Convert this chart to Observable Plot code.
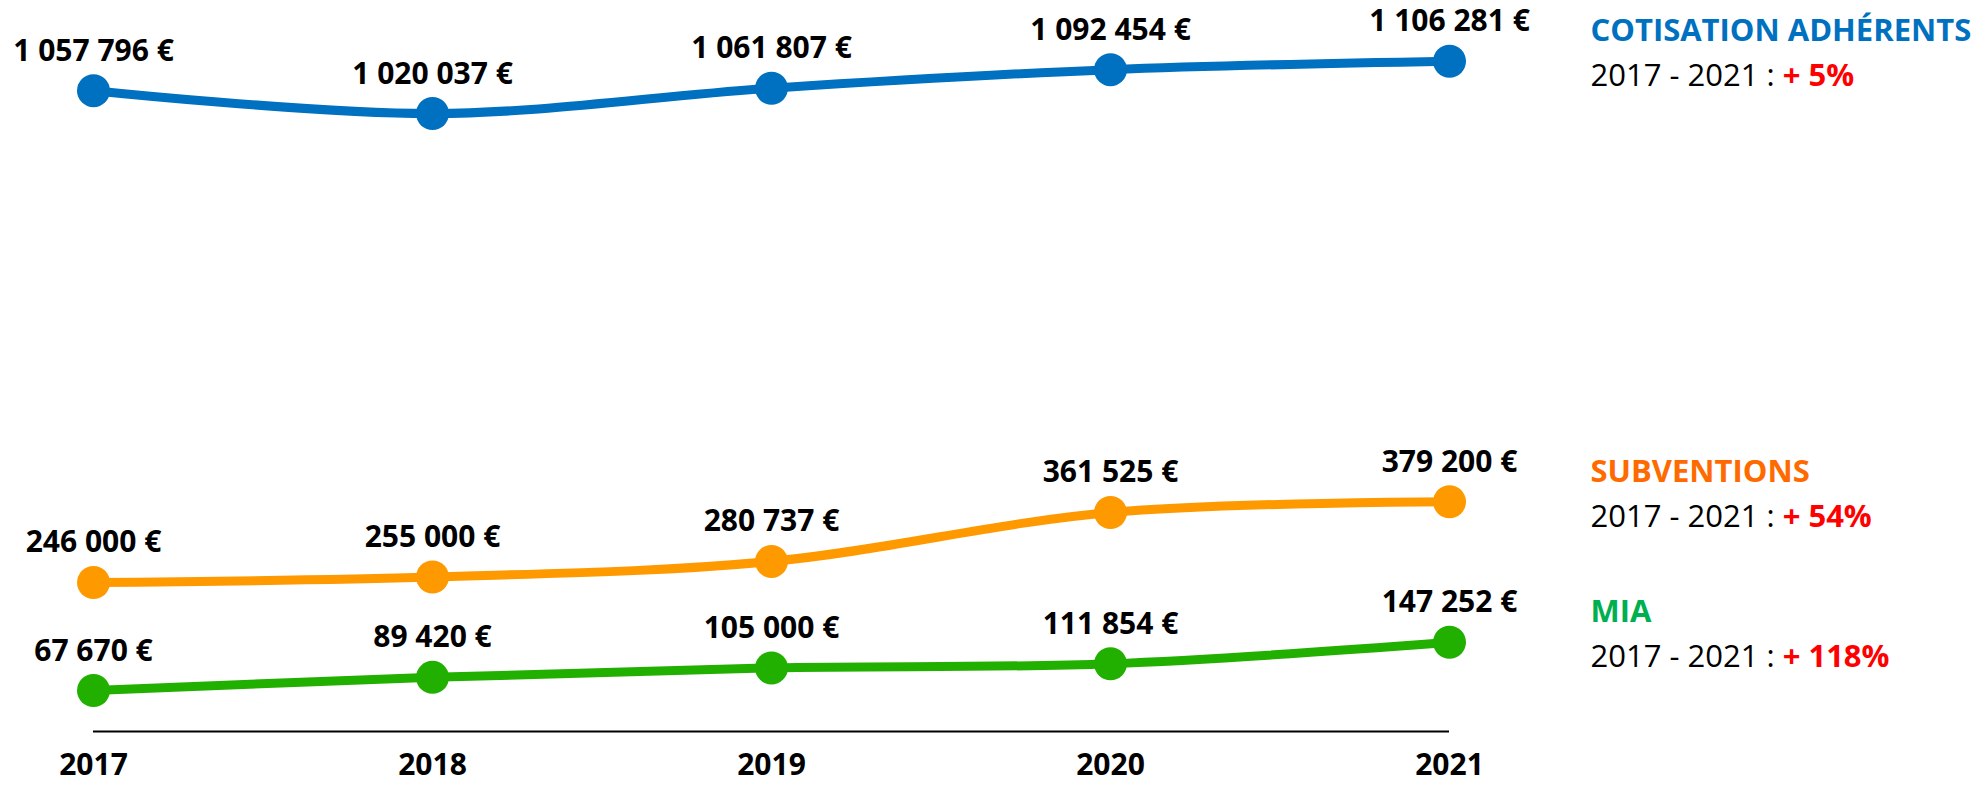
<!DOCTYPE html>
<html>
<head>
<meta charset="utf-8">
<script src="https://cdn.jsdelivr.net/npm/d3@7"></script>
<script src="https://cdn.jsdelivr.net/npm/@observablehq/plot@0.6"></script>
<style>
  html, body { margin: 0; padding: 0; background: #fff; }
  #chart { width: 1987px; height: 786px; }
</style>
</head>
<body>
<div id="chart"></div>
<script>
// ---- Data ----
const years = [2017, 2018, 2019, 2020, 2021];
const seriesNames = ["COTISATION ADHÉRENTS", "SUBVENTIONS", "MIA"];
const cotisation = [1057796, 1020037, 1061807, 1092454, 1106281];
const subventions = [246000, 255000, 280737, 361525, 379200];
const mia = [67670, 89420, 105000, 111854, 147252];
const lineColors = ["#0070C0", "#FF9900", "#22B000"];
const titleColors = ["#0070C0", "#FF6A00", "#00B050"];

const seriesValues = [cotisation, subventions, mia];

// long table for Plot
const rows = [];
seriesNames.forEach((name, i) => {
  years.forEach((yr, j) => rows.push({series: name, year: yr, value: seriesValues[i][j]}));
});
const lastRows = seriesNames.map((name, i) => {
  const vals = seriesValues[i];
  const pct = Math.round((vals[vals.length - 1] / vals[0] - 1) * 100);
  return {
    series: name,
    year: years[years.length - 1],
    value: vals[vals.length - 1],
    sub: `${years[0]} - ${years[years.length - 1]} : |+ ${pct}%`
  };
});

const locale = d3.formatLocale({decimal: ",", thousands: " ", grouping: [3], currency: ["", " €"]});
const fmt = locale.format("$,d");

const W = 1987, H = 786;
const font = "'Open Sans', 'DejaVu Sans', sans-serif";

const plot = Plot.plot({
  width: W,
  height: H,
  marginLeft: 93,
  marginRight: W - 1449,
  marginTop: 4,
  marginBottom: 55,
  style: {fontFamily: font, color: "black", background: "white"},
  x: {type: "linear", domain: [years[0], years[years.length - 1]]},
  y: {domain: [0, 1200000], axis: null},
  color: {domain: seriesNames, range: lineColors},
  marks: [
    Plot.ruleY([0], {stroke: "black", strokeWidth: 2}),
    Plot.axisX({ticks: years, tickFormat: "d", tickSize: 0, tickPadding: 22, fontSize: 30, fontWeight: "bold", fill: "black", label: null}),
    Plot.line(rows, {x: "year", y: "value", z: "series", stroke: "series", strokeWidth: 9, curve: "catmull-rom"}),
    Plot.dot(rows, {x: "year", y: "value", fill: "series", r: 16.5}),
    Plot.text(rows, {x: "year", y: "value", text: d => fmt(d.value), lineAnchor: "bottom", dy: -30, fontSize: 30, fontWeight: "bold", fill: "black"}),
    Plot.text(lastRows, {x: "year", y: "value", text: "series", textAnchor: "start", lineAnchor: "bottom", dx: 141, dy: -20, fontSize: 31, fontWeight: "bold", fill: d => titleColors[seriesNames.indexOf(d.series)]}),
    Plot.text(lastRows, {x: "year", y: "value", text: "sub", textAnchor: "start", lineAnchor: "bottom", dx: 141, dy: 25, fontSize: 31, fill: "black"})
  ]
});

// split the "2017 - 2021 : |+ 5%" texts into black + red bold parts
d3.select(plot).selectAll("text").each(function () {
  const t = this.textContent;
  if (t.includes("|")) {
    const [a, b] = t.split("|");
    const sel = d3.select(this);
    sel.text(null);
    sel.append("tspan").text(a);
    sel.append("tspan").attr("fill", "#FF0000").attr("font-weight", "bold").text(b);
  }
});

document.getElementById("chart").appendChild(plot);
</script>
</body>
</html>
